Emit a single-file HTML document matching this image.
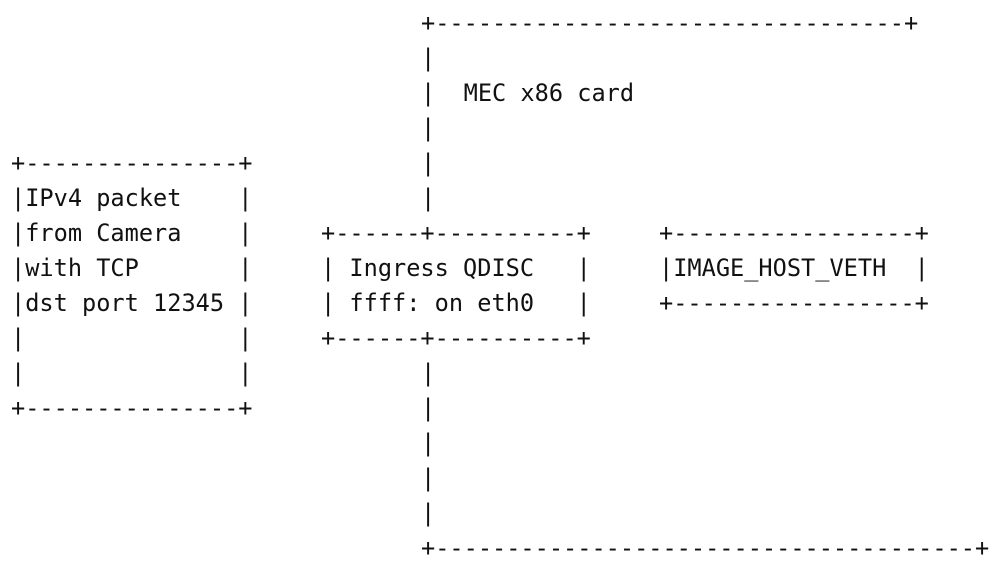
<!DOCTYPE html>
<html><head><meta charset="utf-8"><style>
html,body{margin:0;padding:0;background:#fff;width:1001px;height:571px;overflow:hidden;position:relative}
.t{position:absolute;font-family:"DejaVu Sans Mono","Liberation Mono",monospace;font-size:23.6px;line-height:35px;height:35px;white-space:pre;color:#111}
</style></head><body>
<div class="t" style="left:421px;top:6px">+---------------------------------+</div>
<div class="t" style="left:421px;top:41px">|</div>
<div class="t" style="left:421px;top:76px">|  MEC x86 card</div>
<div class="t" style="left:421px;top:111px">|</div>
<div class="t" style="left:11px;top:146px">+---------------+</div>
<div class="t" style="left:421px;top:146px">|</div>
<div class="t" style="left:11px;top:181px">|IPv4 packet    |</div>
<div class="t" style="left:421px;top:181px">|</div>
<div class="t" style="left:11px;top:216px">|from Camera    |</div>
<div class="t" style="left:321px;top:216px">+------+----------+</div>
<div class="t" style="left:659px;top:216px">+-----------------+</div>
<div class="t" style="left:11px;top:251px">|with TCP       |</div>
<div class="t" style="left:321px;top:251px">| Ingress QDISC   |</div>
<div class="t" style="left:659px;top:251px">|IMAGE_HOST_VETH  |</div>
<div class="t" style="left:11px;top:286px">|dst port 12345 |</div>
<div class="t" style="left:321px;top:286px">| ffff: on eth0   |</div>
<div class="t" style="left:659px;top:286px">+-----------------+</div>
<div class="t" style="left:11px;top:321px">|               |</div>
<div class="t" style="left:321px;top:321px">+------+----------+</div>
<div class="t" style="left:11px;top:356px">|               |</div>
<div class="t" style="left:421px;top:356px">|</div>
<div class="t" style="left:11px;top:391px">+---------------+</div>
<div class="t" style="left:421px;top:391px">|</div>
<div class="t" style="left:421px;top:426px">|</div>
<div class="t" style="left:421px;top:461px">|</div>
<div class="t" style="left:421px;top:496px">|</div>
<div class="t" style="left:421px;top:531px">+--------------------------------------+</div>
</body></html>
